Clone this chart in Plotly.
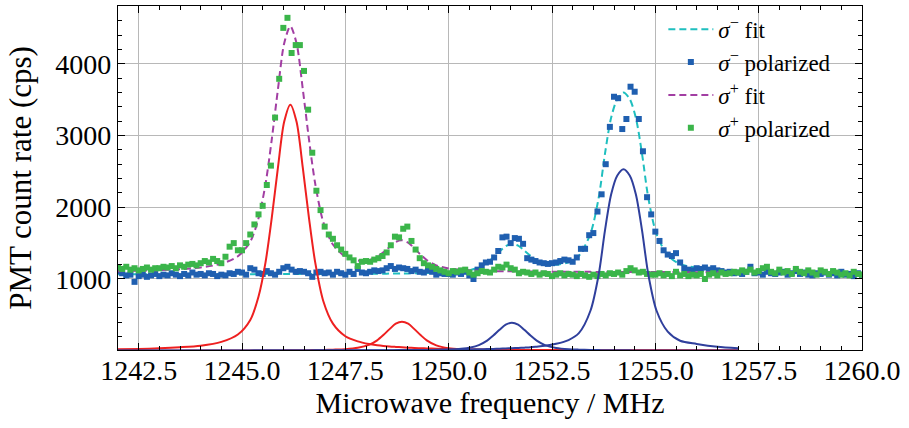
import plotly.graph_objects as go

# ---------------- data ----------------
# frequency sweep (MHz), 0.1 MHz steps 1242.0 .. 1260.0
FREQ_START = 1242.0
FREQ_STEP = 0.1
N_POINTS = 181
FREQ = [round(FREQ_START + FREQ_STEP * i, 1) for i in range(N_POINTS)]

# sigma-minus polarized count rate (cps)
SIGMA_MINUS = [
    1110, 1080, 1050, 1060, 960, 1040, 1060, 1030, 1050, 1070,
    1040, 1060, 1050, 1080, 1060, 1040, 1070, 1050, 1090, 1060,
    1070, 1050, 1080, 1070, 1040, 1060, 1050, 1080, 1070, 1100,
    1090, 1060, 1150, 1130, 1080, 1070, 1110, 1080, 1060, 1100,
    1150, 1170, 1130, 1100, 1110, 1100, 1080, 1030, 1090, 1100,
    1080, 1090, 1060, 1100, 1080, 1060, 1100, 1070, 1140, 1090,
    1080, 1100, 1120, 1110, 1120, 1150, 1180, 1140, 1160, 1150,
    1140, 1110, 1130, 1100, 1090, 1120, 1100, 1060, 1080, 1070,
    1070, 1060, 1090, 1070, 1100, 1050, 1000, 1130, 1190, 1230,
    1240, 1300, 1390, 1580, 1590, 1500, 1570, 1560, 1490, 1290,
    1270, 1250, 1230, 1220, 1210, 1220, 1230, 1250, 1270, 1260,
    1240, 1300, 1420, 1420, 1610, 1640, 1940, 2180, 2600, 3120,
    3540, 3520, 3090, 3230, 3680, 3610, 3230, 2780, 2140, 1900,
    1660, 1530, 1400, 1340, 1320, 1360, 1230, 1150, 1130, 1120,
    1150, 1140, 1160, 1130, 1150, 1120, 1110, 1090, 1100, 1080,
    1090, 1070, 1100, 1170, 1080, 1090, 1060, 1100, 1080, 1070,
    1090, 1100, 1060, 1080, 1110, 1070, 1090, 1060, 1050, 1080,
    1070, 1090, 1060, 1080, 1050, 1100, 1060, 1070, 1040, 1080,
    1060,
]

# sigma-plus polarized count rate (cps)
SIGMA_PLUS = [
    1160, 1140, 1170, 1130, 1150, 1120, 1140, 1160, 1130, 1150,
    1150, 1170, 1160, 1180, 1150, 1190, 1170, 1200, 1210, 1190,
    1220, 1250, 1230, 1280, 1250, 1220, 1310, 1450, 1500, 1400,
    1400, 1500, 1620, 1760, 1900, 2020, 2310, 2580, 3250, 3790,
    4500, 4640, 4150, 4260, 4260, 3900, 3360, 2760, 2230, 1960,
    1730, 1620, 1560, 1470, 1410, 1350, 1300, 1260, 1180, 1240,
    1250, 1240, 1270, 1290, 1320, 1370, 1470, 1590, 1580, 1700,
    1730, 1530, 1410, 1290, 1220, 1190, 1170, 1140, 1120, 1100,
    1080, 1110, 1100, 1120, 1130, 1090, 1060, 1080, 1110, 1100,
    1090, 1130, 1170, 1160, 1200, 1150, 1130, 1080, 1100, 1090,
    1070, 1090, 1060, 1080, 1070, 1040, 1060, 1080, 1050, 1070,
    1060, 1040, 1070, 1050, 1030, 1060, 1040, 1070, 1050, 1080,
    1070, 1090, 1060, 1110, 1150, 1120, 1090, 1100, 1070, 1060,
    1060, 1080, 1050, 1070, 1040, 1100, 1050, 1070, 1040, 1060,
    1050, 1070, 1000, 1060, 1080, 1050, 1090, 1070, 1080, 1100,
    1090, 1120, 1100, 1130, 1090, 1110, 1150, 1170, 1100, 1080,
    1130, 1090, 1110, 1070, 1140, 1100, 1080, 1120, 1090, 1060,
    1120, 1100, 1070, 1110, 1090, 1060, 1080, 1050, 1100, 1070,
    1060,
]

# frequencies at which the fitted curves are drawn (MHz)
CURVE_FREQ = [
    1242.0, 1242.5, 1243.0, 1243.5, 1244.0, 1244.5, 1244.9, 1245.2, 1245.4, 1245.57,
    1245.72, 1245.87, 1246.02, 1246.17, 1246.32, 1246.47, 1246.62, 1246.77, 1246.97, 1247.2,
    1247.5, 1247.8, 1248.07, 1248.27, 1248.42, 1248.57, 1248.72, 1248.87, 1249.02, 1249.17,
    1249.32, 1249.47, 1249.7, 1250.0, 1250.3, 1250.53, 1250.73, 1250.93, 1251.08, 1251.23,
    1251.38, 1251.53, 1251.68, 1251.83, 1251.98, 1252.13, 1252.33, 1252.6, 1252.9, 1253.15,
    1253.43, 1253.63, 1253.78, 1253.93, 1254.08, 1254.23, 1254.38, 1254.53, 1254.68, 1254.83,
    1255.03, 1255.3, 1255.6, 1256.0, 1256.5, 1257.0,
]

# sigma-minus fit (cps)
FIT_MINUS = [
    1066, 1066, 1066, 1066, 1066, 1067, 1067, 1067, 1068, 1068,
    1068, 1069, 1069, 1069, 1069, 1069, 1069, 1070, 1070, 1071,
    1072, 1072, 1073, 1074, 1074, 1075, 1076, 1078, 1078, 1080,
    1081, 1083, 1086, 1094, 1107, 1127, 1161, 1227, 1299, 1382,
    1458, 1488, 1465, 1397, 1322, 1259, 1209, 1198, 1233, 1323,
    1631, 2135, 2740, 3246, 3510, 3598, 3509, 3243, 2737, 2130,
    1623, 1332, 1205, 1160, 1120, 1099,
]

# sigma-plus fit (cps)
FIT_PLUS = [
    1108, 1114, 1123, 1137, 1160, 1213, 1316, 1520, 1846, 2327,
    2944, 3647, 4283, 4524, 4284, 3650, 2948, 2332, 1785, 1480,
    1312, 1258, 1262, 1308, 1371, 1447, 1517, 1540, 1507, 1427,
    1341, 1265, 1190, 1146, 1128, 1120, 1115, 1112, 1110, 1108,
    1107, 1106, 1105, 1104, 1104, 1103, 1102, 1101, 1100, 1100,
    1099, 1098, 1098, 1098, 1097, 1097, 1097, 1097, 1097, 1096,
    1096, 1096, 1095, 1094, 1094, 1094,
]

# individual fitted components (cps)
PLUS_PEAK_1 = [
    19, 25, 34, 48, 70, 123, 226, 429, 755, 1235,
    1852, 2555, 3190, 3430, 3190, 2555, 1852, 1235, 686, 377,
    202, 130, 93, 75, 65, 58, 53, 48, 43, 38,
    35, 32, 27, 23, 20, 17, 16, 15, 14, 13,
    13, 12, 12, 11, 11, 11, 10, 10, 9, 9,
    8, 8, 8, 8, 7, 7, 7, 7, 7, 6,
    6, 6, 6, 5, 5, 5,
]
PLUS_PEAK_2 = [
    1, 1, 1, 1, 2, 2, 2, 3, 3, 4,
    4, 4, 5, 6, 6, 7, 8, 9, 11, 15,
    22, 40, 81, 145, 218, 301, 376, 404, 376, 301,
    218, 145, 75, 35, 20, 15, 11, 9, 8, 7,
    6, 6, 5, 5, 5, 4, 4, 3, 3, 3,
    3, 2, 2, 2, 2, 2, 2, 2, 2, 2,
    2, 2, 1, 1, 1, 1,
]
MINUS_PEAK_1 = [
    1, 1, 1, 1, 1, 1, 1, 1, 2, 2,
    2, 2, 2, 2, 2, 2, 2, 2, 2, 3,
    3, 3, 3, 4, 4, 4, 5, 6, 6, 7,
    8, 9, 11, 17, 28, 46, 78, 140, 211, 291,
    363, 390, 363, 291, 211, 140, 78, 39, 21, 15,
    11, 9, 7, 7, 6, 5, 5, 4, 4, 4,
    3, 3, 3, 2, 2, 2,
]
MINUS_PEAK_2 = [
    2, 2, 2, 2, 2, 3, 3, 3, 3, 3,
    3, 4, 4, 4, 4, 4, 4, 5, 5, 5,
    6, 6, 7, 7, 7, 8, 8, 9, 9, 10,
    10, 11, 12, 14, 16, 18, 20, 24, 25, 28,
    32, 35, 39, 43, 48, 56, 68, 96, 149, 245,
    557, 1063, 1670, 2176, 2441, 2530, 2441, 2176, 1670, 1063,
    557, 266, 139, 95, 55, 34,
]

X_TICKS = [1242.5, 1245.0, 1247.5, 1250.0, 1252.5, 1255.0, 1257.5, 1260.0]
Y_TICKS = [1000, 2000, 3000, 4000]

# ---------------- style ----------------
FONT = "Liberation Serif, Times New Roman, serif"
C_CYAN = "#1fbfbf"
C_BLUE_PTS = "#1f5fb0"
C_PURPLE = "#a23ea3"
C_GREEN = "#3bb54a"
C_RED = "#ee2020"
C_NAVY = "#2f3f9c"
DASH = "7px,4px"

fig = go.Figure()

fig.add_trace(go.Scatter(
    x=CURVE_FREQ, y=FIT_MINUS, mode="lines", name="<i>σ</i><sup>−</sup> fit",
    line=dict(color=C_CYAN, width=2, dash=DASH, shape="spline", smoothing=0.8),
    legendgroup="a"))
fig.add_trace(go.Scatter(
    x=FREQ, y=SIGMA_MINUS, mode="markers", name="<i>σ</i><sup>−</sup> polarized",
    marker=dict(symbol="square", size=6, color=C_BLUE_PTS, line=dict(width=0)),
    legendgroup="b"))
fig.add_trace(go.Scatter(
    x=CURVE_FREQ, y=FIT_PLUS, mode="lines", name="<i>σ</i><sup>+</sup> fit",
    line=dict(color=C_PURPLE, width=2, dash=DASH, shape="spline", smoothing=0.8),
    legendgroup="c"))
fig.add_trace(go.Scatter(
    x=FREQ, y=SIGMA_PLUS, mode="markers", name="<i>σ</i><sup>+</sup> polarized",
    marker=dict(symbol="square", size=6, color=C_GREEN, line=dict(width=0)),
    legendgroup="d"))

for comp, col in [(PLUS_PEAK_1, C_RED), (PLUS_PEAK_2, C_RED),
                  (MINUS_PEAK_1, C_NAVY), (MINUS_PEAK_2, C_NAVY)]:
    fig.add_trace(go.Scatter(
        x=CURVE_FREQ, y=comp, mode="lines", showlegend=False,
        line=dict(color=col, width=2, shape="spline", smoothing=0.8)))

axis_common = dict(
    ticks="inside", ticklen=7, tickwidth=1, tickcolor="black",
    showline=True, linecolor="black", linewidth=1.3, mirror="allticks",
    showgrid=True, gridcolor="#b8b8b8", gridwidth=1, zeroline=False,
    tickfont=dict(family=FONT, size=28, color="black"),
)

fig.update_layout(
    width=909, height=428,
    margin=dict(l=118, r=47, t=6, b=78),
    paper_bgcolor="white", plot_bgcolor="white",
    font=dict(family=FONT, color="black"),
    showlegend=True,
    legend=dict(x=0.733, y=0.995, xanchor="left", yanchor="top",
                bgcolor="rgba(0,0,0,0)", font=dict(family=FONT, size=23, color="black"),
                traceorder="grouped", tracegroupgap=0, itemwidth=45),
    xaxis=dict(
        range=[1242.0, 1260.0], tickmode="array", tickvals=X_TICKS,
        ticktext=[f"{v:.1f}" for v in X_TICKS], ticklabelstandoff=-5,
        minor=dict(ticks="inside", dtick=0.5, tick0=1242.0, ticklen=4,
                   tickcolor="black", showgrid=False),
        title=dict(text="Microwave frequency / MHz",
                   font=dict(family=FONT, size=30, color="black"), standoff=6),
        **axis_common),
    yaxis=dict(
        range=[10, 4805], tickmode="array", tickvals=Y_TICKS,
        ticktext=[str(v) for v in Y_TICKS],
        minor=dict(ticks="inside", dtick=200, tick0=0, ticklen=4,
                   tickcolor="black", showgrid=False),
        title=dict(text="PMT count rate (cps)",
                   font=dict(family=FONT, size=31, color="black"), standoff=14),
        **axis_common),
)

fig.write_html("out.html")
